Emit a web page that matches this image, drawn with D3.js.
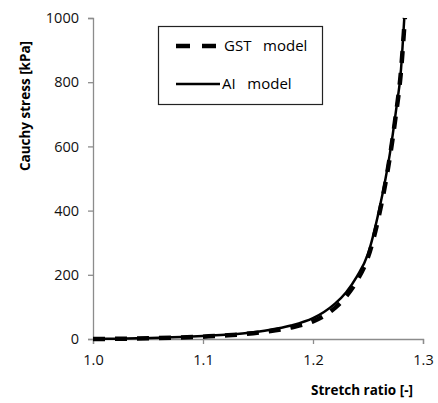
<!DOCTYPE html>
<html>
<head>
<meta charset="utf-8">
<script src="https://cdn.jsdelivr.net/npm/d3@7"></script>
<style>
  body { margin: 0; background: #fff; }
  svg { font-family: "Open Sans", sans-serif; }
</style>
</head>
<body>
<div id="chart"></div>
<script>
// stretch ratio vs Cauchy stress [kPa]
const aiStretch  = [1.00, 1.02, 1.04, 1.06, 1.08, 1.10, 1.12, 1.14, 1.16, 1.18, 1.20, 1.21, 1.22, 1.23, 1.24, 1.25, 1.26, 1.27, 1.275, 1.28, 1.283];
const aiStress   = [0, 1, 2, 4, 6, 9, 13, 19, 28, 42, 65, 84, 110, 145, 195, 265, 400, 580, 700, 840, 1000];
const gstStretch = [1.00, 1.02, 1.04, 1.06, 1.08, 1.10, 1.12, 1.14, 1.16, 1.18, 1.20, 1.21, 1.22, 1.23, 1.24, 1.25, 1.26, 1.27, 1.275, 1.28, 1.2835];
const gstStress  = [0, 0.5, 1.5, 3, 5, 7, 11, 16, 24, 36, 55, 72, 97, 132, 182, 255, 385, 570, 690, 835, 1000];
const xTicks = [1.0, 1.1, 1.2, 1.3];
const yTicks = [0, 200, 400, 600, 800, 1000];

const width = 438, height = 403;
const margin = {top: 18, right: 15, bottom: 64, left: 93};

const svg = d3.select("#chart").append("svg")
  .attr("width", width).attr("height", height);

const x = d3.scaleLinear().domain([1.0, 1.3]).range([margin.left, width - margin.right]);
const y = d3.scaleLinear().domain([0, 1000]).range([height - margin.bottom, margin.top]);

// axes
const xAxis = svg.append("g")
  .attr("transform", `translate(0,${y(0)})`)
  .call(d3.axisBottom(x).tickValues(xTicks).tickFormat(d3.format(".1f")).tickSizeOuter(0).tickSize(5).tickPadding(11));
const yAxis = svg.append("g")
  .attr("transform", `translate(${x(1.0)},0)`)
  .call(d3.axisLeft(y).tickValues(yTicks).tickFormat(d3.format("d")).tickSizeOuter(0).tickSize(5).tickPadding(9));

[xAxis, yAxis].forEach(g => {
  g.select(".domain").attr("stroke", "#8c8c8c").attr("stroke-width", 1.3);
  g.selectAll(".tick line").attr("stroke", "#8c8c8c").attr("stroke-width", 1.3);
  g.selectAll(".tick text").attr("fill", "#111").style("font-size", "14.5px").style("font-family", "Open Sans");
});

// axis titles
svg.append("text")
  .attr("transform", "translate(30,106) rotate(-90)")
  .attr("text-anchor", "middle")
  .style("font-size", "13.5px").style("font-weight", "bold")
  .text("Cauchy stress [kPa]");
svg.append("text")
  .attr("x", 413).attr("y", 395)
  .attr("text-anchor", "end")
  .style("font-size", "13.5px").style("font-weight", "bold")
  .text("Stretch ratio [-]");

// lines
const line = d3.line().x(d => x(d[0])).y(d => y(d[1])).curve(d3.curveMonotoneX);
const gstData = gstStretch.map((s, i) => [s, gstStress[i]]);
const aiData = aiStretch.map((s, i) => [s, aiStress[i]]);

svg.append("path").datum(gstData)
  .attr("fill", "none").attr("stroke", "#000")
  .attr("stroke-width", 4.5).attr("stroke-dasharray", "12,10")
  .attr("d", line);
svg.append("path").datum(aiData)
  .attr("fill", "none").attr("stroke", "#000")
  .attr("stroke-width", 2.5)
  .attr("d", line);

// legend
const leg = svg.append("g");
leg.append("rect")
  .attr("x", 158.5).attr("y", 26.5).attr("width", 164).attr("height", 78)
  .attr("fill", "#fff").attr("stroke", "#222").attr("stroke-width", 1.2);
leg.append("line")
  .attr("x1", 176).attr("x2", 216).attr("y1", 46).attr("y2", 46)
  .attr("stroke", "#000").attr("stroke-width", 4.5).attr("stroke-dasharray", "14,12");
leg.append("text")
  .attr("x", 224).attr("y", 51)
  .style("font-size", "15px").style("white-space", "pre")
  .text("GST   model");
leg.append("line")
  .attr("x1", 176).attr("x2", 220).attr("y1", 84).attr("y2", 84)
  .attr("stroke", "#000").attr("stroke-width", 2.5);
leg.append("text")
  .attr("x", 222).attr("y", 89)
  .style("font-size", "15px").style("white-space", "pre")
  .text("AI   model");
</script>
</body>
</html>
